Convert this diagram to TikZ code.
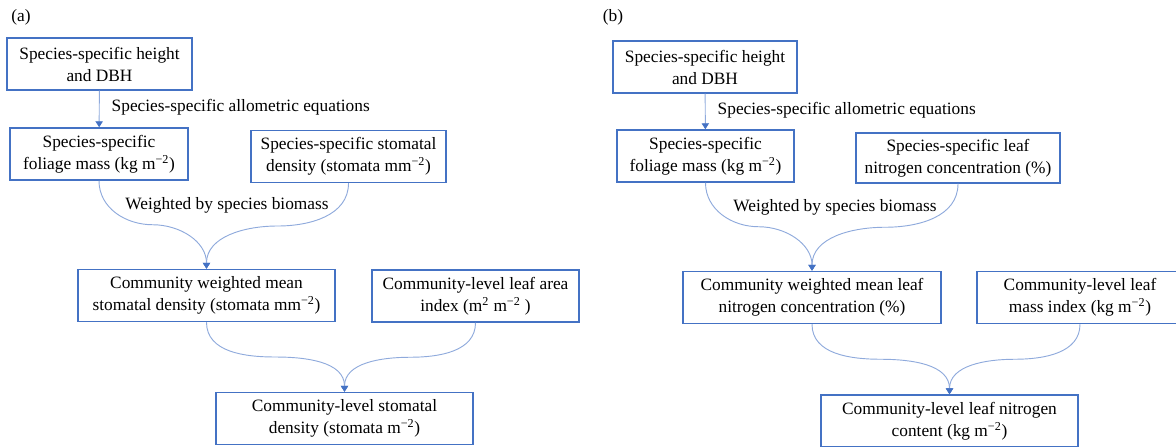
\documentclass[tikz,border=0pt]{standalone}
\usepackage{fontspec}
\setmainfont{Liberation Serif}
\usepackage{tikz}
\usepackage{xcolor}
\usetikzlibrary{arrows.meta,calc}
\definecolor{boxblue}{HTML}{4472C4}
\definecolor{linkblue}{HTML}{8FAADC}
\tikzset{
    flow-box/.style = {draw=boxblue, line width=1.1pt, rectangle, align=center, inner sep=0pt, minimum height=39pt, font=\fontsize{13}{16.5}\selectfont},
    flow-link/.style = {draw=linkblue, line width=0.7pt, -{Triangle[width=5.5pt,length=4.5pt,color=boxblue]}},
    flow-text/.style = {inner sep=0pt, font=\fontsize{13}{16.5}\selectfont},
}

\begin{document}
\begin{tikzpicture}[x=0.75pt,y=-0.75pt]
\useasboundingbox (0,0) rectangle (1176,446);

% panel (a)
\node[flow-text] (tagA) at (21,17) {(a)};
\node[flow-box, minimum width=138.75pt] (heightA) at (99.5,64) {Species-specific height\\and DBH};
\node[flow-box, minimum width=133.5pt] (foliageA) at (99,154) {Species-specific\\foliage mass (kg m\textsuperscript{−2})};
\node[flow-box, minimum width=146.25pt] (stomataA) at (348.5,156.5) {Species-specific stomatal\\density (stomata mm\textsuperscript{−2})};
\node[flow-box, minimum width=192.75pt] (meanA) at (206.5,295.5) {Community weighted mean\\stomatal density (stomata mm\textsuperscript{−2})};
\node[flow-box, minimum width=155.25pt] (laiA) at (475.5,296) {Community-level leaf area\\index (m\textsuperscript{2} m\textsuperscript{−2} )};
\node[flow-box, minimum width=192.75pt] (totalA) at (344.5,418.5) {Community-level stomatal\\density (stomata m\textsuperscript{−2})};
\node[flow-text] (weightA) at (227,205) {Weighted by species biomass};

\draw[flow-link] (heightA) -- node[flow-text, midway, anchor=west, xshift=9pt, yshift=1pt] {Species-specific allometric equations} (foliageA);
\draw[flow-link] (foliageA.south) to[out=-90,in=180] ($(foliageA.south)!.5!(meanA.north)$) to[out=0,in=90] (meanA.north);
\draw[flow-link] (stomataA.south) to[out=-90,in=0] ($(stomataA.south)!.5!(meanA.north)$) to[out=180,in=90] (meanA.north);
\draw[flow-link] (meanA.south) to[out=-90,in=180] ($(meanA.south)!.5!(totalA.north)$) to[out=0,in=90] (totalA.north);
\draw[flow-link] (laiA.south) to[out=-90,in=0] ($(laiA.south)!.5!(totalA.north)$) to[out=180,in=90] (totalA.north);

% panel (b)
\node[flow-text] (tagB) at (613,17) {(b)};
\node[flow-box, minimum width=138pt] (heightB) at (705,67) {Species-specific height\\and DBH};
\node[flow-box, minimum width=132.75pt] (foliageB) at (705.5,156) {Species-specific\\foliage mass (kg m\textsuperscript{−2})};
\node[flow-box, minimum width=153pt, minimum height=37.5pt] (nitroB) at (958,158) {Species-specific leaf\\nitrogen concentration (\%)};
\node[flow-box, minimum width=193.5pt] (meanB) at (812,297.5) {Community weighted mean leaf\\nitrogen concentration (\%)};
\node[flow-box, minimum width=154.5pt] (lmiB) at (1080,297.5) {Community-level leaf\\mass index (kg m\textsuperscript{−2})};
\node[flow-box, minimum width=192.75pt] (totalB) at (949.5,421) {Community-level leaf nitrogen\\content (kg m\textsuperscript{−2})};
\node[flow-text] (weightB) at (835,207) {Weighted by species biomass};

\draw[flow-link] (heightB) -- node[flow-text, midway, anchor=west, xshift=9pt, yshift=1pt] {Species-specific allometric equations} (foliageB);
\draw[flow-link] (foliageB.south) to[out=-90,in=180] ($(foliageB.south)!.5!(meanB.north)$) to[out=0,in=90] (meanB.north);
\draw[flow-link] (nitroB.south) to[out=-90,in=0] ($(nitroB.south)!.5!(meanB.north)$) to[out=180,in=90] (meanB.north);
\draw[flow-link] (meanB.south) to[out=-90,in=180] ($(meanB.south)!.5!(totalB.north)$) to[out=0,in=90] (totalB.north);
\draw[flow-link] (lmiB.south) to[out=-90,in=0] ($(lmiB.south)!.5!(totalB.north)$) to[out=180,in=90] (totalB.north);
\end{tikzpicture}
\end{document}
